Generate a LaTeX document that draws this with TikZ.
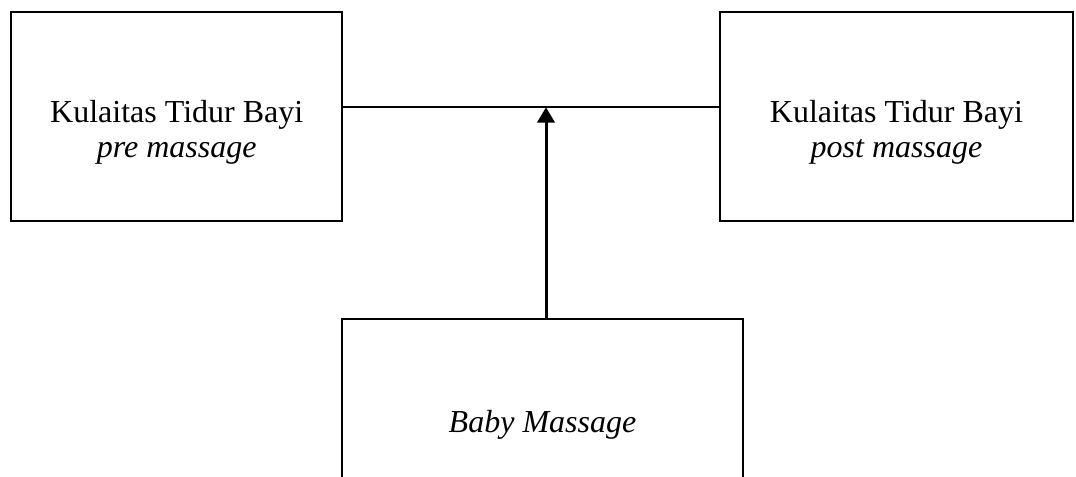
\documentclass[tikz,border=0pt]{standalone}
\usepackage{fontspec}
\setmainfont{Liberation Serif}
\usetikzlibrary{arrows.meta,positioning}

\begin{document}
\begin{tikzpicture}[
  x=0.75pt, y=-0.75pt,
  font=\fontsize{24}{26.25}\selectfont,
  every node/.style={align=center},
  box/.style={draw, line width=1.5pt, inner sep=0pt, minimum height=156.4pt},
  lbl/.style={inner sep=0pt},
  ln/.style={line width=1.5pt},
  arr/.style={-{Triangle[length=11.5pt,width=13pt]}, line width=2.25pt}
]
\useasboundingbox (0,0) rectangle (1076,476);
\node[box, minimum width=247.9pt] (pre) at (176.75,116.75) {};
\node[box, minimum width=264.75pt] (post) at (896.5,116.75) {};
\node[box, minimum width=300.75pt] (baby) at (542.5,423) {};
\node[lbl] (pretxt) at ([yshift=-11.5pt]pre.center) {Kulaitas Tidur Bayi\\\textit{pre massage}};
\node[lbl] (posttxt) at ([yshift=-11.5pt]post.center) {Kulaitas Tidur Bayi\\\textit{post massage}};
\node[lbl] (babytxt) at ([yshift=-1.5pt]baby.center) {\textit{Baby Massage}};
\coordinate (join) at (546,107.3);
\draw[ln] (pre.east |- join) -- (post.west |- join);
\draw[arr] (baby.north -| join) -- (join);
\end{tikzpicture}
\end{document}
